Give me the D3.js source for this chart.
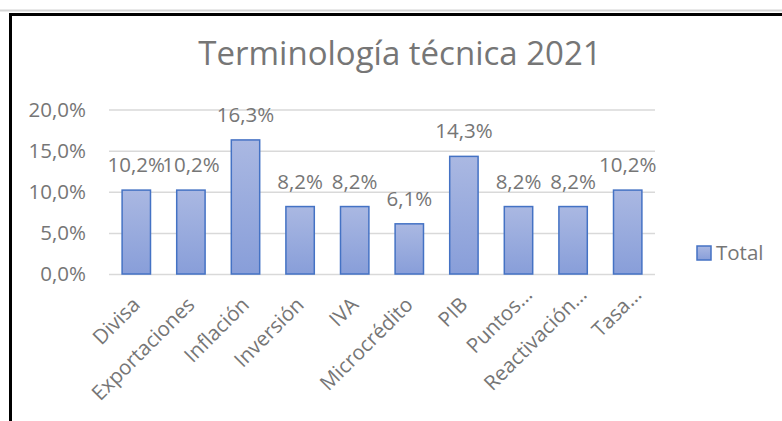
<html>
<head>
<script src="https://cdn.jsdelivr.net/npm/d3@7"></script>
<style>
  body { margin: 0; background: #fff; }
  text { font-family: "Open Sans", sans-serif; fill: #767676; }
</style>
</head>
<body>
<script>
    // chart data
    var categories = ["Divisa", "Exportaciones", "Inflación", "Inversión", "IVA",
                      "Microcrédito", "PIB", "Puntos…", "Reactivación…", "Tasa…"];
    var values = [0.102, 0.102, 0.163, 0.082, 0.082, 0.061, 0.143, 0.082, 0.082, 0.102];
    var yTicks = [0, 0.05, 0.10, 0.15, 0.20];
    var seriesName = "Total";
    var title = "Terminología técnica 2021";

    var width = 782, height = 421;
    var fontSize = "20.5px";

    // comma decimal, like the spreadsheet
    var locale = d3.formatLocale({ decimal: ",", thousands: ".", grouping: [3], currency: ["", "€"] });
    var pct = locale.format(".1%");

    var svg = d3.select("body").append("svg")
        .attr("width", width)
        .attr("height", height);

    // bar gradient
    var grad = svg.append("defs").append("linearGradient")
        .attr("id", "barFill")
        .attr("x1", 0).attr("y1", 0).attr("x2", 0).attr("y2", 1);
    grad.append("stop").attr("offset", "0%").attr("stop-color", "#aab8e2");
    grad.append("stop").attr("offset", "100%").attr("stop-color", "#889ed9");

    // frame lines (cropped chart border)
    svg.append("line").attr("x1", 0).attr("x2", width).attr("y1", 10.5).attr("y2", 10.5)
        .attr("stroke", "#d4d4d4").attr("stroke-width", 2);
    svg.append("line").attr("x1", 9).attr("x2", width).attr("y1", 14.5).attr("y2", 14.5)
        .attr("stroke", "#000").attr("stroke-width", 3);
    svg.append("line").attr("x1", 10.5).attr("x2", 10.5).attr("y1", 13).attr("y2", height)
        .attr("stroke", "#000").attr("stroke-width", 3);

    // title
    svg.append("text")
        .attr("x", 400).attr("y", 65)
        .attr("text-anchor", "middle")
        .style("font-size", "33px")
        .text(title);

    // scales
    var x = d3.scaleBand()
        .domain(categories)
        .range([109, 655])
        .paddingInner(0.48)
        .paddingOuter(0.24);

    var y = d3.scaleLinear()
        .domain([0, 0.2])
        .range([274, 109.5]);

    // gridlines + y labels
    var yAxis = svg.append("g")
        .attr("transform", "translate(109,0)")
        .call(d3.axisLeft(y).tickValues(yTicks).tickSize(-546).tickPadding(23).tickFormat(pct));
    yAxis.select(".domain").remove();
    yAxis.selectAll("line").attr("stroke", "#d9d9d9").attr("stroke-width", 1.5);
    yAxis.selectAll("text").style("font-size", fontSize).attr("fill", "#767676");

    // bars
    svg.selectAll(".bar")
        .data(values)
        .enter().append("rect")
        .attr("class", "bar")
        .attr("x", function (d, i) { return x(categories[i]); })
        .attr("width", x.bandwidth())
        .attr("y", function (d) { return y(d); })
        .attr("height", function (d) { return y(0) - y(d); })
        .attr("fill", "url(#barFill)")
        .attr("stroke", "#4472c4")
        .attr("stroke-width", 1.5);

    // value labels
    svg.selectAll(".lbl")
        .data(values)
        .enter().append("text")
        .attr("class", "lbl")
        .attr("x", function (d, i) { return x(categories[i]) + x.bandwidth() / 2; })
        .attr("y", function (d) { return y(d) - 18; })
        .attr("text-anchor", "middle")
        .style("font-size", fontSize)
        .text(function (d) { return pct(d); });

    // category labels, rotated; truncated ones sit a bit further up the slope
    var xAxis = svg.append("g")
        .attr("transform", "translate(0,274)")
        .call(d3.axisBottom(x).tickSize(0).tickPadding(0));
    xAxis.select(".domain").remove();
    xAxis.selectAll("text")
        .style("font-size", fontSize)
        .attr("fill", "#767676")
        .attr("text-anchor", "end")
        .attr("y", 0)
        .attr("dy", 0)
        .attr("transform", function (d) {
            var s = d.slice(-1) === "…" ? 10 : 0;
            return "translate(" + (5 + s) + "," + (32 - s) + ") rotate(-45)";
        });

    // legend
    var legend = svg.append("g").attr("transform", "translate(697,246)");
    legend.append("rect")
        .attr("width", 14).attr("height", 14)
        .attr("fill", "url(#barFill)")
        .attr("stroke", "#4472c4")
        .attr("stroke-width", 1.5);
    legend.append("text")
        .attr("x", 19).attr("y", 14)
        .style("font-size", fontSize)
        .text(seriesName);
</script>
</body>
</html>
